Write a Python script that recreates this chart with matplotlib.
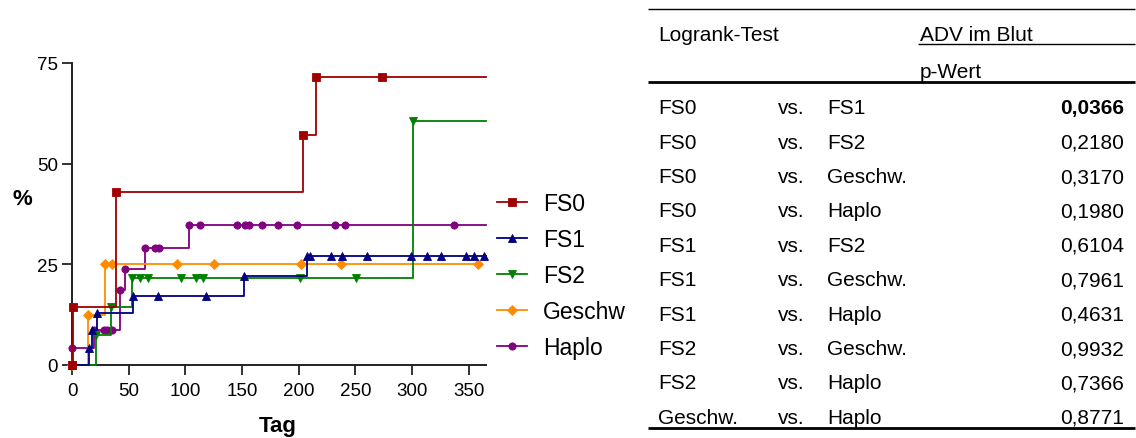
import matplotlib
matplotlib.use("Agg")
import matplotlib.pyplot as plt
from matplotlib.lines import Line2D

plt.rcParams['font.family'] = ['Liberation Sans', 'DejaVu Sans']

W, H = 1136, 439
DPI = 100

# ---------------- data ----------------
groups = ["FS0", "FS1", "FS2", "Geschw", "Haplo"]
colors = ["#A00000", "#000080", "#008000", "#FF8C00", "#800080"]
markers = ["s", "^", "v", "D", "o"]

fs0_days = [0, 1, 39, 204, 215, 274]
fs0_pct = [0, 14.3, 42.9, 57.1, 71.4, 71.4]

fs1_days = [0, 15, 18, 22, 54, 76, 118, 152, 207, 210, 229, 238, 260, 299, 313, 326, 348, 355, 364]
fs1_pct = [0, 4.2, 8.7, 13.0, 17.2, 17.2, 17.2, 22.1, 27.0, 27.0, 27.0, 27.0, 27.0, 27.0, 27.0, 27.0, 27.0, 27.0, 27.0]

fs2_days = [0, 21, 34, 53, 60, 67, 96, 109, 116, 201, 251, 301]
fs2_pct = [0, 7.5, 14.4, 21.5, 21.5, 21.5, 21.5, 21.5, 21.5, 21.5, 21.5, 60.7]

geschw_days = [0, 14, 29, 35, 93, 125, 202, 237, 358]
geschw_pct = [0, 12.5, 25, 25, 25, 25, 25, 25, 25]

haplo_days = [0, 0, 19, 28, 31, 35, 42, 47, 64, 73, 77, 103, 113, 146, 153, 156, 168, 182, 199, 232, 241, 337]
haplo_pct = [0, 4.2, 8.8, 8.8, 8.8, 8.8, 18.7, 23.8, 29.0, 29.0, 29.0, 34.8, 34.8, 34.8, 34.8, 34.8, 34.8, 34.8, 34.8, 34.8, 34.8, 34.8]

end_days = [365, 365, 365, 358, 365]

series_days = [fs0_days, fs1_days, fs2_days, geschw_days, haplo_days]
series_pct = [fs0_pct, fs1_pct, fs2_pct, geschw_pct, haplo_pct]

x_ticks = [0, 50, 100, 150, 200, 250, 300, 350]
y_ticks = [0, 25, 50, 75]
x_label = "Tag"
y_label = "%"

table_title = "Logrank-Test"
table_group = "ADV im Blut"
table_sub = "p-Wert"
comp_a = ["FS0", "FS0", "FS0", "FS0", "FS1", "FS1", "FS1", "FS2", "FS2", "Geschw."]
comp_b = ["FS1", "FS2", "Geschw.", "Haplo", "FS2", "Geschw.", "Haplo", "Geschw.", "Haplo", "Haplo"]
p_values = ["0,0366", "0,2180", "0,3170", "0,1980", "0,6104", "0,7961", "0,4631", "0,9932", "0,7366", "0,8771"]
p_bold = [True, False, False, False, False, False, False, False, False, False]

# ---------------- figure ----------------
fig = plt.figure(figsize=(W / DPI, H / DPI), dpi=DPI)

def fx(px):
    return px / W

def fy(py):
    return 1 - py / H

ax_l, ax_r, ax_t, ax_b = 72, 485.6, 64, 366
ax = fig.add_axes([fx(ax_l), fy(ax_b), fx(ax_r) - fx(ax_l), fy(ax_t) - fy(ax_b)])

def msize(m):
    return 4.6 if m == "D" else 5.2

order = [4, 3, 2, 1, 0]
for i in order:
    d = list(series_days[i]) + [end_days[i]]
    p = list(series_pct[i]) + [series_pct[i][-1]]
    ax.plot(d, p, drawstyle="steps-post", color=colors[i], lw=1.3,
            marker=markers[i], markersize=msize(markers[i]),
            markevery=list(range(len(series_days[i]))),
            markeredgewidth=0.6, clip_on=False, label=groups[i],
            zorder=3 + (4 - i) * 0.1)

handles = [Line2D([0], [0], color=colors[i], lw=1.3, marker=markers[i],
                  markersize=msize(markers[i]), markeredgewidth=0.6)
           for i in range(5)]

ax.set_xlim(0, 365)
ax.set_ylim(0, 75)
ax.set_xticks(x_ticks)
ax.set_yticks(y_ticks)
for s in ["top", "right"]:
    ax.spines[s].set_visible(False)
for s in ["left", "bottom"]:
    ax.spines[s].set_linewidth(1.4)
    ax.spines[s].set_color("#222222")
ax.tick_params(axis="both", direction="out", length=7, width=1.3, color="#222222",
               labelsize=13.5)
ax.tick_params(axis="x", pad=5)
ax.tick_params(axis="y", pad=3)

fig.text(fx(22), fy(200), y_label, fontsize=16, fontweight="bold", ha="center", va="center")
fig.text(fx(278), fy(427), x_label, fontsize=16, fontweight="bold", ha="center", va="center")

leg = fig.legend(handles, groups, loc="upper left",
                 bbox_to_anchor=(fx(497), fy(193)), frameon=False, fontsize=16.5,
                 borderpad=0, borderaxespad=0, handlelength=1.3, handletextpad=0.72,
                 labelspacing=0.57)

# ---------------- table ----------------
tl, tr = 648, 1135

def hline(x0, x1, y, lw):
    fig.add_artist(Line2D([fx(x0), fx(x1)], [fy(y), fy(y)], color="black", lw=lw,
                          transform=fig.transFigure, solid_capstyle="butt"))

hline(tl, tr, 10, 1.0)
hline(918, tr, 44.5, 1.0)
hline(tl, tr, 82.5, 2.0)
hline(tl, tr, 429, 2.0)

fs_t = 15

fig.text(fx(658), fy(41), table_title, fontsize=fs_t, ha="left", va="baseline")
fig.text(fx(920), fy(41), table_group, fontsize=fs_t, ha="left", va="baseline")
fig.text(fx(920), fy(78.5), table_sub, fontsize=fs_t, ha="left", va="baseline")

for k in range(len(comp_a)):
    yb = fy(114.3 + k * 34.4)
    fig.text(fx(658), yb, comp_a[k], fontsize=fs_t, ha="left", va="baseline")
    fig.text(fx(778), yb, "vs.", fontsize=fs_t, ha="left", va="baseline")
    fig.text(fx(827), yb, comp_b[k], fontsize=fs_t, ha="left", va="baseline")
    fig.text(fx(1124), yb, p_values[k], fontsize=fs_t, ha="right", va="baseline",
             fontweight="bold" if p_bold[k] else "normal")

fig.savefig("out.png", dpi=DPI)
